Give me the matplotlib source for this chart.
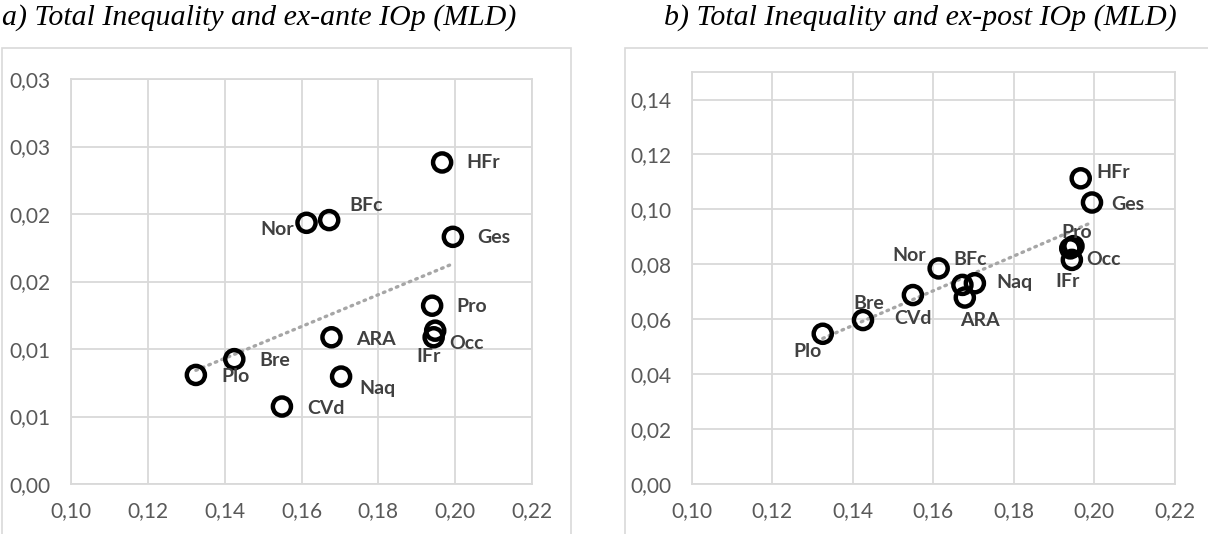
import numpy as np
import matplotlib.pyplot as plt
from matplotlib.patches import Rectangle

# Regions and values
regions = ['HFr', 'Nor', 'BFc', 'Ges', 'Pro', 'Occ', 'IFr', 'ARA', 'Bre', 'Plo', 'Naq', 'CVd']
total_mld = [0.1966, 0.1613, 0.1672, 0.1994, 0.1940, 0.1948, 0.1944, 0.1678, 0.1425, 0.1325, 0.1703, 0.1549]
exante_iop = [0.02382, 0.01935, 0.01955, 0.01831, 0.01321, 0.01136, 0.01087, 0.01087, 0.00925, 0.00808, 0.00796, 0.00574]
expost_iop = [0.1113, 0.0785, 0.0725, 0.1025, 0.0858, 0.0866, 0.0816, 0.0679, 0.0597, 0.0547, 0.0731, 0.0688]

x_ticks = [0.10, 0.12, 0.14, 0.16, 0.18, 0.20, 0.22]
x_labels = ['0,10', '0,12', '0,14', '0,16', '0,18', '0,20', '0,22']
ya_ticks = [0.0, 0.005, 0.010, 0.015, 0.020, 0.025, 0.030]
ya_labels = ['0,00', '0,01', '0,01', '0,02', '0,02', '0,03', '0,03']
yb_ticks = [0.0, 0.02, 0.04, 0.06, 0.08, 0.10, 0.12, 0.14]
yb_labels = ['0,00', '0,02', '0,04', '0,06', '0,08', '0,10', '0,12', '0,14']

# label offsets in pixels (dx, dy, ha)
offs_a = {'HFr': (24, 0, 'left'), 'Nor': (-13, -7, 'right'), 'BFc': (20, 15, 'left'),
          'Ges': (24, -1, 'left'), 'Pro': (24, -1, 'left'), 'Occ': (14, -13, 'left'),
          'IFr': (-5, -19, 'center'), 'ARA': (25, -2, 'left'), 'Bre': (25, -1, 'left'),
          'Plo': (25, -2, 'left'), 'Naq': (18, -12, 'left'), 'CVd': (25, -2, 'left')}
offs_b = {'HFr': (16, 6, 'left'), 'Nor': (-13, 13, 'right'), 'BFc': (-9, 25, 'left'),
          'Ges': (19, -2, 'left'), 'Pro': (6, 16, 'center'), 'Occ': (13, -13, 'left'),
          'IFr': (-4, -22, 'center'), 'ARA': (15, -23, 'center'), 'Bre': (6, 17, 'center'),
          'Plo': (-15, -18, 'center'), 'Naq': (21, 1, 'left'), 'CVd': (0, -23, 'center')}

grid_col = '#d9d9d9'
tick_col = '#595959'
lab_col = '#404040'

fig = plt.figure(figsize=(12.08, 5.34), dpi=100)

# chart area borders
for x0, w in [(0.002, 0.471), (0.517, 0.49)]:
    fig.patches.append(Rectangle((x0, -0.01), w, 0.92, transform=fig.transFigure,
                                 fill=False, edgecolor=grid_col, linewidth=1.2))

ax_a = fig.add_axes([0.0588, 0.0936, 0.3816, 0.7584])
ax_b = fig.add_axes([0.5728, 0.0936, 0.3998, 0.7715])


def draw(ax, y, yticks, ylabels, ymax, offs):
    ax.set_xlim(0.10, 0.22)
    ax.set_ylim(0, ymax)
    ax.set_xticks(x_ticks)
    ax.set_xticklabels(x_labels)
    ax.set_yticks(yticks)
    ax.set_yticklabels(ylabels)
    ax.grid(True, color=grid_col, linewidth=1.3)
    ax.set_axisbelow(True)
    for s in ax.spines.values():
        s.set_color(grid_col)
        s.set_linewidth(1.3)
    ax.tick_params(axis='y', length=0, labelsize=15, labelcolor=tick_col, pad=15)
    ax.tick_params(axis='x', length=0, labelsize=15, labelcolor=tick_col, pad=12)
    for t in ax.get_xticklabels() + ax.get_yticklabels():
        t.set_family('Lato')

    # linear trend
    k, b = np.polyfit(total_mld, y, 1)
    xs = np.array([min(total_mld), max(total_mld)])
    ax.plot(xs, k * xs + b, color='#a6a6a6', linewidth=2.4,
            linestyle=(0, (0.5, 1.6)), dash_capstyle='round', zorder=2)

    ax.scatter(total_mld, y, s=170, facecolors='none', edgecolors='black',
               linewidths=3.2, zorder=3)
    for name, xv, yv in zip(regions, total_mld, y):
        dx, dy, ha = offs[name]
        ax.annotate(name, (xv, yv), xytext=(dx, dy), textcoords='offset pixels',
                    ha=ha, va='center', fontsize=14, fontweight='bold',
                    color=lab_col, family='Lato', zorder=4)


draw(ax_a, exante_iop, ya_ticks, ya_labels, 0.030, offs_a)
draw(ax_b, expost_iop, yb_ticks, yb_labels, 0.15, offs_b)

fig.text(0.002, 0.968, 'a) Total Inequality and ex-ante IOp (MLD)', ha='left', va='center',
         fontsize=21.5, style='italic', family='Liberation Serif')
fig.text(0.5497, 0.968, 'b) Total Inequality and ex-post IOp (MLD)', ha='left', va='center',
         fontsize=21.5, style='italic', family='Liberation Serif')

fig.savefig('out.png', dpi=100)
